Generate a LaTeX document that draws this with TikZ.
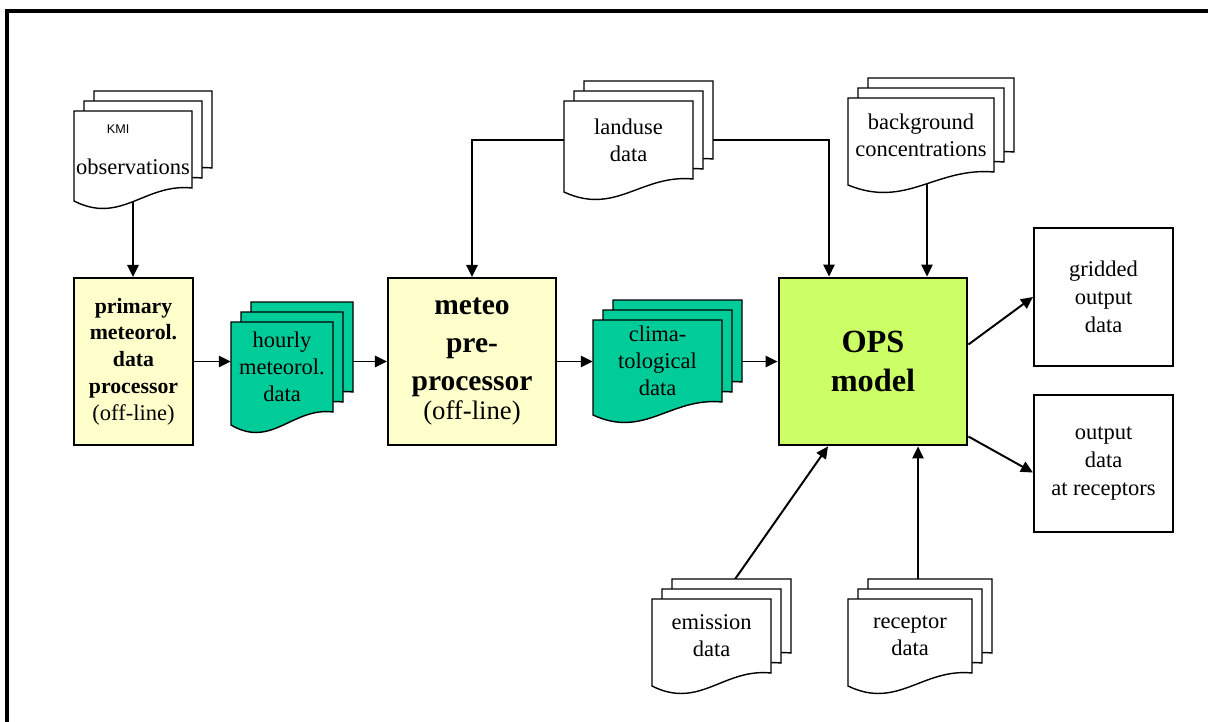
\documentclass[tikz,border=0pt]{standalone}
\usepackage{fontspec}
\setmainfont{Liberation Serif}
\setsansfont{Liberation Sans}
\usetikzlibrary{arrows.meta,calc,backgrounds}
\definecolor{procyellow}{RGB}{255,255,204}
\definecolor{datagreen}{RGB}{0,204,153}
\definecolor{opsgreen}{RGB}{204,255,102}
\newcommand{\px}{0.025cm}

% one sheet: left, top, right, bottom (right end), fill
\newcommand{\docsheet}[5]{%
  \filldraw[sheet,fill=#5] (#1,#2) -- (#3,#2) -- (#3,#4)
    .. controls +({-0.4*((#3)-(#1))},-5) and +({0.4*((#3)-(#1))},24) .. (#1,{#4+13}) -- cycle;}
% three sheets and a named node on the front one
\newcommand{\docstack}[7]{%
  \docsheet{#2+20}{#3-20}{#4+20}{#5-20}{#6}
  \docsheet{#2+10}{#3-10}{#4+10}{#5-10}{#6}
  \docsheet{#2}{#3}{#4}{#5}{#6}
  \node[doctext,minimum width={((#4)-(#2))*\px},minimum height={((#5)-(#3))*\px}]
    (#1) at ({((#2)+(#4))/2},{((#3)+(#5))/2}) {#7};}

\begin{document}
\begin{tikzpicture}[x=\px,y=-\px,
  sheet/.style={line width=1pt,draw=black},
  doctext/.style={inner sep=0pt,align=center,font=\fontsize{16}{19}\selectfont},
  procbox/.style={draw,line width=1.5pt,inner sep=0pt,align=center},
  flow/.style={line width=1.4pt,-{Triangle[length=8.5pt,width=8pt]}}]
  \useasboundingbox (0,0) rectangle (1208,722);
  \draw[line width=2.2pt] (1208,11) -- (7,11) -- (7,722);

  % input data
  \docstack{obs}{74}{111}{192}{188}{white}{{\sffamily\fontsize{9}{11}\selectfont KMI\hspace*{21pt}}\\[10pt]observations}
  \docstack{landuse}{564}{101}{693}{179}{white}{landuse\\data}
  \docstack{background}{848}{98}{994}{172}{white}{background\\concentrations}
  \docstack{emission}{652}{599}{771}{673}{white}{emission\\data}
  \docstack{receptor}{848}{599}{972}{673}{white}{receptor\\data}

  % processors
  \node[procbox,fill=procyellow,minimum width=119*\px,minimum height=167*\px,
    font=\bfseries\fontsize{15.5}{19}\selectfont] (primary) at (133.5,361.5)
    {primary\\meteorol.\\data\\processor\\{\mdseries\fontsize{16}{19}\selectfont (off-line)}};
  \docstack{hourly}{231}{322}{333}{412}{datagreen}{hourly\\meteorol.\\data}
  \node[procbox,fill=procyellow,minimum width=168*\px,minimum height=167*\px,
    font=\bfseries\fontsize{21}{27}\selectfont] (meteo) at (472,361.5)
    {meteo\\pre-\\processor\\[-7pt]{\mdseries\fontsize{19}{27}\selectfont (off-line)}};
  \docstack{clima}{593}{320}{722}{402}{datagreen}{clima-\\tological\\data}
  \node[procbox,line width=2pt,fill=opsgreen,minimum width=188*\px,minimum height=167*\px,
    font=\bfseries\fontsize{23}{28}\selectfont] (ops) at (873,361.5) {OPS\\model};

  % output
  \node[procbox,minimum width=139*\px,minimum height=138*\px,
    font=\fontsize{16}{20}\selectfont] (gridded) at (1103.5,297) {gridded\\output\\data};
  \node[procbox,minimum width=139*\px,minimum height=137*\px,
    font=\fontsize{16}{20}\selectfont] (outrec) at (1103.5,463.5) {output\\data\\at receptors};

  \coordinate (ops-lu) at ($(ops.north)+(-44,0)$);
  \coordinate (ops-bg) at ($(ops.north)+(54,0)$);
  \coordinate (ops-rc) at ($(ops.south)+(45,0)$);

  \begin{scope}[on background layer]
    \draw[flow] (obs.south) -- (obs.south |- primary.north);
    \draw[flow] (primary.east) -- (primary.east -| hourly.west);
    \draw[flow] (hourly.east |- meteo.west) -- (meteo.west);
    \draw[flow] (meteo.east) -- (meteo.east -| clima.west);
    \draw[flow] (clima.east |- ops.west) -- (ops.west);
    \draw[flow] (landuse.west) -| (meteo.north);
    \draw[flow] (landuse.east) -| (ops-lu);
    \draw[flow] (ops-bg |- background.south) -- (ops-bg);
    \draw[flow] ($(emission.north)+(21,-16)$) -- ($(ops.south)+(-45,0)$);
    \draw[flow] (ops-rc |- receptor.north) -- (ops-rc);
    \draw[flow] ($(ops.east)+(0,-17)$) -- (gridded.west);
    \draw[flow] ($(ops.east)+(0,75)$) -- ($(outrec.west)+(0,9)$);
  \end{scope}
\end{tikzpicture}
\end{document}
